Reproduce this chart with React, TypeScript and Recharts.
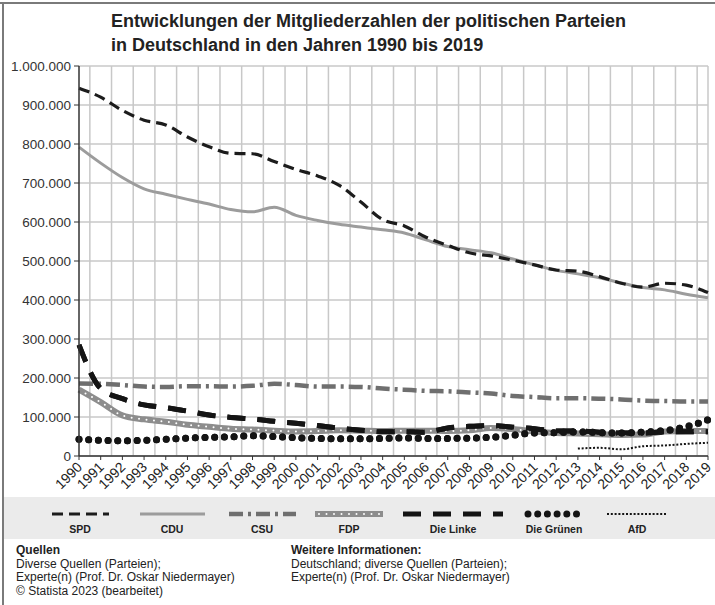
import React from "react";
import { LineChart, Line, XAxis, YAxis, CartesianGrid } from "recharts";

const years = [1990,1991,1992,1993,1994,1995,1996,1997,1998,1999,2000,2001,2002,2003,2004,2005,2006,2007,2008,2009,2010,2011,2012,2013,2014,2015,2016,2017,2018,2019];
const spd = [943000,920000,886000,861000,849000,818000,793000,776000,775000,755000,735000,718000,694000,651000,606000,590000,561000,540000,521000,513000,502000,490000,477000,474000,460000,443000,433000,443000,438000,419000];
const cdu = [792000,751000,714000,685000,671000,658000,646000,632000,626000,638000,617000,604000,594000,587000,580000,572000,554000,537000,529000,521000,505000,490000,476000,467000,457000,444000,432000,426000,415000,406000];
const csu = [186000,185000,182000,178000,177000,179000,179000,178000,180000,185000,182000,178000,178000,177000,173000,170000,167000,166000,163000,160000,154000,151000,148000,148000,147000,145000,142000,141000,140000,140000];
const fdp = [170000,138000,104000,94000,88000,80000,75000,70000,68000,65000,63000,64000,66000,65000,64000,65000,65000,64000,66000,72000,69000,63000,59000,58000,56000,54000,55000,63000,64000,64000];
const linke = [285000,173000,147000,131000,124000,115000,105000,99000,95000,89000,84000,78000,71000,66000,62000,62000,61000,72000,76000,78000,74000,70000,64000,64000,61000,59000,59000,62000,62000,62000];
const gruene = [43000,40000,39000,40000,43000,46000,48000,49000,52000,50000,47000,45000,44000,44000,45000,46000,45000,45000,46000,48000,53000,59000,60000,62000,60000,59000,61000,65000,75000,93000];
const afd: (number | null)[] = [null,null,null,null,null,null,null,null,null,null,null,null,null,null,null,null,null,null,null,null,null,null,null,19000,21000,17000,25000,27000,31000,34000];
const yTicks = [0,100000,200000,300000,400000,500000,600000,700000,800000,900000,1000000];
const seriesNames = ["SPD","CDU","CSU","FDP","Die Linke","Die Grünen","AfD"];

const data = years.map((year, i) => ({
  year,
  SPD: spd[i],
  CDU: cdu[i],
  CSU: csu[i],
  FDP: fdp[i],
  Linke: linke[i],
  Gruene: gruene[i],
  AfD: afd[i],
}));

const fmt = (v: number) => String(v).replace(/\B(?=(\d{3})+(?!\d))/g, ".");

const FONT = "'Liberation Sans', Arial, Helvetica, sans-serif";

const XTick = (props: any) => {
  const { x, y, payload } = props;
  return (
    <g transform={`translate(${x + 1},${y + 3})`}>
      <text x={0} y={0} textAnchor="end" transform="rotate(-45)" fontSize={14} fill="#222" fontFamily={FONT} dy="0.3em">
        {payload.value}
      </text>
    </g>
  );
};

const vGen = (props: any) => {
  const { xAxis, offset } = props;
  const pts: number[] = [];
  const first = years[0];
  const last = years[years.length - 1];
  const toX = (v: number) =>
    xAxis && typeof xAxis.scale === "function"
      ? xAxis.scale(v)
      : offset.left + ((v - first) / (last - first)) * offset.width;
  for (let i = 0; i < years.length - 1; i++) pts.push(toX(years[i] + 0.5));
  pts.push(toX(last));
  return pts;
};

type Sty = { stroke: string; width: number; dash?: string; cap?: "round" | "butt"; overlay?: { stroke: string; width: number; dash: string; cap?: "round" | "butt" } };
const styles: Sty[] = [
  { stroke: "#1c1c1c", width: 3.2, dash: "11 6" },
  { stroke: "#9c9c9c", width: 3 },
  { stroke: "#6f6f6f", width: 4.5, dash: "14 5 3 5" },
  { stroke: "#8d8d8d", width: 6, overlay: { stroke: "#ffffff", width: 2, dash: "0 7.5", cap: "round" } },
  { stroke: "#141414", width: 5, dash: "18 12" },
  { stroke: "#141414", width: 7, dash: "0 9.7", cap: "round" },
  { stroke: "#141414", width: 2, dash: "2 1.8" },
];

const legendLayout = [
  { center: 80, w: 57 },
  { center: 172, w: 65 },
  { center: 262, w: 67 },
  { center: 349, w: 68 },
  { center: 453, w: 100 },
  { center: 554, w: 61 },
  { center: 637, w: 60 },
];

const Sample = ({ s, w }: { s: Sty; w: number }) => (
  <svg width={w} height={10} style={{ display: "block", margin: "0 auto" }}>
    <line x1={s.cap === "round" ? 4 : 0} x2={w - (s.cap === "round" ? 3 : 0)} y1={5} y2={5} stroke={s.stroke} strokeWidth={s.width} strokeDasharray={s.dash} strokeLinecap={s.cap || "butt"} />
    {s.overlay && (
      <line x1={4} x2={w} y1={5} y2={5} stroke={s.overlay.stroke} strokeWidth={s.overlay.width} strokeDasharray={s.overlay.dash} strokeLinecap={s.overlay.cap || "butt"} />
    )}
  </svg>
);

export default function App() {
  const keys = ["SPD", "CDU", "CSU", "FDP", "Linke", "Gruene", "AfD"];
  const order = [1, 0, 2, 3, 4, 5, 6];
  return (
    <div style={{ position: "absolute", left: 0, top: 0, width: 715, height: 605, background: "#fff", fontFamily: FONT, color: "#222", overflow: "hidden" }}>
      <div style={{ position: "absolute", left: 0, top: 2, width: 715, height: 2, background: "#7a7a7a" }} />
      <div style={{ position: "absolute", left: 2, top: 2, width: 2, height: 603, background: "#7a7a7a" }} />
      <div style={{ position: "absolute", left: 111, top: 9, fontSize: 18, fontWeight: "bold", lineHeight: "24px", color: "#222" }}>
        Entwicklungen der Mitgliederzahlen der politischen Parteien
        <br />
        in Deutschland in den Jahren 1990 bis 2019
      </div>
      <div style={{ position: "absolute", left: 0, top: 0 }}>
        <LineChart width={715} height={496} data={data} margin={{ top: 66, right: 7, left: 0, bottom: 0 }}>
          <CartesianGrid stroke="#c8c8c8" strokeWidth={1.5} verticalCoordinatesGenerator={vGen} />
          <XAxis
            dataKey="year"
            type="number"
            domain={[years[0], years[years.length - 1]]}
            ticks={years}
            interval={0}
            height={40}
            tick={<XTick />}
            tickSize={4}
            tickMargin={2}
            axisLine={{ stroke: "#333", strokeWidth: 1.5 }}
            tickLine={{ stroke: "#333" }}
          />
          <YAxis
            type="number"
            domain={[0, 1000000]}
            ticks={yTicks}
            interval={0}
            width={79}
            tickFormatter={fmt}
            tickSize={5}
            tickMargin={3}
            tick={{ fontSize: 13.5, fill: "#333", fontFamily: FONT }}
            axisLine={{ stroke: "#333", strokeWidth: 1.5 }}
            tickLine={{ stroke: "#333" }}
          />
          {order.map((i) => {
            const s = styles[i];
            return (
              <Line
                key={keys[i]}
                dataKey={keys[i]}
                type="monotone"
                stroke={s.stroke}
                strokeWidth={s.width}
                strokeDasharray={s.dash}
                strokeLinecap={s.cap || "butt"}
                dot={false}
                activeDot={false}
                isAnimationActive={false}
                connectNulls={false}
              />
            );
          })}
          <Line
            key="FDPoverlay"
            dataKey="FDP"
            type="monotone"
            stroke={styles[3].overlay!.stroke}
            strokeWidth={styles[3].overlay!.width}
            strokeDasharray={styles[3].overlay!.dash}
            strokeLinecap="round"
            dot={false}
            activeDot={false}
            isAnimationActive={false}
          />
          <Line key="LinkeTop" dataKey="Linke" type="monotone" stroke={styles[4].stroke} strokeWidth={styles[4].width} strokeDasharray={styles[4].dash} dot={false} activeDot={false} isAnimationActive={false} />
          <Line key="GrueneTop" dataKey="Gruene" type="monotone" stroke={styles[5].stroke} strokeWidth={styles[5].width} strokeDasharray={styles[5].dash} strokeLinecap="round" dot={false} activeDot={false} isAnimationActive={false} />
        </LineChart>
      </div>
      <div style={{ position: "absolute", left: 4, top: 497, width: 711, height: 42, background: "#ebebeb" }}>
        {seriesNames.map((name, i) => {
          const L = legendLayout[i];
          const boxW = Math.max(L.w, 80);
          return (
            <div key={name} style={{ position: "absolute", left: L.center - 4 - boxW / 2, top: 12, width: boxW, textAlign: "center" }}>
              <Sample s={styles[i]} w={L.w} />
              <div style={{ fontSize: 10.5, fontWeight: "bold", marginTop: 4, lineHeight: "13px", color: "#222" }}>{name}</div>
            </div>
          );
        })}
      </div>
      <div style={{ position: "absolute", left: 16, top: 544, fontSize: 12, lineHeight: "13.5px", color: "#222" }}>
        <div style={{ fontWeight: "bold" }}>Quellen</div>
        <div>Diverse Quellen (Parteien);</div>
        <div>Experte(n) (Prof. Dr. Oskar Niedermayer)</div>
        <div>© Statista 2023 (bearbeitet)</div>
      </div>
      <div style={{ position: "absolute", left: 291, top: 544, fontSize: 12, lineHeight: "13.5px", color: "#222" }}>
        <div style={{ fontWeight: "bold" }}>Weitere Informationen:</div>
        <div>Deutschland; diverse Quellen (Parteien);</div>
        <div>Experte(n) (Prof. Dr. Oskar Niedermayer)</div>
      </div>
    </div>
  );
}
